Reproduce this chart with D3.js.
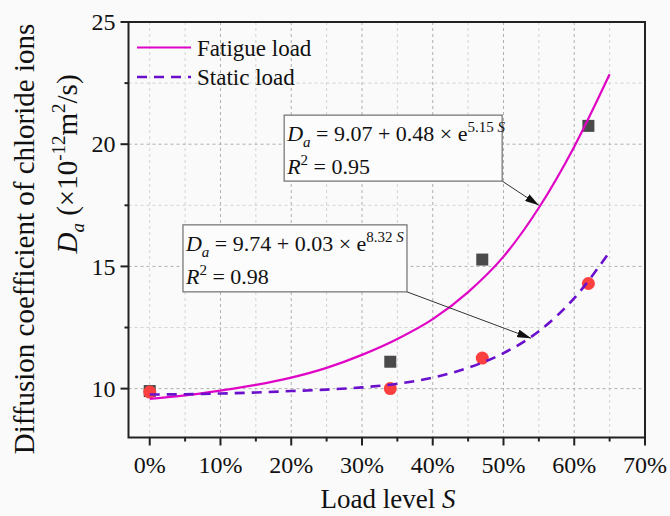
<!DOCTYPE html>
<html>
<head>
<meta charset="utf-8">
<script src="https://cdn.jsdelivr.net/npm/d3@7"></script>
<style>
  body { margin: 0; background: #fafafa; }
  svg { display: block; font-family: "Liberation Serif", "Times New Roman", serif; }
</style>
</head>
<body>
<svg id="chart" width="670" height="516"></svg>
<script>
// measured points
var loadLevels = [0, 0.34, 0.47, 0.62];
var fatigueValues = [9.9, 11.1, 15.28, 20.75];
var staticValues = [9.86, 10.0, 11.25, 14.3];

// fitted curves
var fitLevels = [0, 0.05, 0.1, 0.15, 0.2, 0.25, 0.3, 0.35, 0.4, 0.45, 0.5, 0.55, 0.6, 0.65];
var fatigueFit = [9.58, 9.72, 9.92, 10.15, 10.45, 10.85, 11.38, 12.03, 12.84, 13.95, 15.4, 17.4, 19.9, 22.86];
var staticFit = [9.76, 9.77, 9.8, 9.84, 9.9, 9.96, 10.05, 10.2, 10.45, 10.85, 11.45, 12.35, 13.7, 15.6];

var xTicks = [0, 0.1, 0.2, 0.3, 0.4, 0.5, 0.6, 0.7];
var xMinor = [0.05, 0.15, 0.25, 0.35, 0.45, 0.55, 0.65];
var yTicks = [10, 15, 20, 25];
var yMinor = [12.5, 17.5, 22.5];

var seriesNames = ['Fatigue load', 'Static load'];
var fatigueEq = {a: '9.07', b: '0.48', k: '5.15', r2: '0.95'};
var staticEq = {a: '9.74', b: '0.03', k: '8.32', r2: '0.98'};

var svg = d3.select('#chart');
var pLeft = 128.5, pRight = 645, pTop = 22, pBottom = 437.5;

var x = d3.scaleLinear().domain([-0.03, 0.70]).range([pLeft, pRight]);
var y = d3.scaleLinear().domain([8, 25]).range([pBottom, pTop]);

svg.append('rect').attr('width', 670).attr('height', 516).style('fill', '#fafafa');

// grid
var grid = svg.append('g');
grid.selectAll('.vminor').data(xMinor.concat([0])).enter().append('line')
  .attr('x1', function(d){return x(d);}).attr('x2', function(d){return x(d);})
  .attr('y1', pTop).attr('y2', pBottom)
  .style('stroke', '#d4d4d4').style('stroke-dasharray', '3,3');
grid.selectAll('.vmajor').data(xTicks.slice(1, -1)).enter().append('line')
  .attr('x1', function(d){return x(d);}).attr('x2', function(d){return x(d);})
  .attr('y1', pTop).attr('y2', pBottom)
  .style('stroke', '#b0b0b0').style('stroke-dasharray', '3,3');
grid.selectAll('.hminor').data(yMinor).enter().append('line')
  .attr('y1', function(d){return y(d);}).attr('y2', function(d){return y(d);})
  .attr('x1', pLeft).attr('x2', pRight)
  .style('stroke', '#d4d4d4').style('stroke-dasharray', '3,3');
grid.selectAll('.hmajor').data(yTicks.slice(0, -1)).enter().append('line')
  .attr('y1', function(d){return y(d);}).attr('y2', function(d){return y(d);})
  .attr('x1', pLeft).attr('x2', pRight)
  .style('stroke', '#b0b0b0').style('stroke-dasharray', '3,3');

// markers
var sq = 12;
svg.selectAll('.sq').data(loadLevels).enter().append('rect')
  .attr('x', function(d){return x(d) - sq / 2;})
  .attr('y', function(d, i){return y(fatigueValues[i]) - sq / 2;})
  .attr('width', sq).attr('height', sq)
  .style('fill', '#4a4a4a');
svg.selectAll('.dot').data(loadLevels).enter().append('circle')
  .attr('cx', function(d){return x(d);})
  .attr('cy', function(d, i){return y(staticValues[i]);})
  .attr('r', 6.5)
  .style('fill', '#fc4040');

// fitted curves
var fitLine = function(vals) {
  return d3.line()
    .x(function(d){return x(d);})
    .y(function(d, i){return y(vals[i]);})
    .curve(d3.curveMonotoneX)(fitLevels);
};
svg.append('path').attr('d', fitLine(fatigueFit))
  .style('fill', 'none').style('stroke', '#e005c6').style('stroke-width', 2.2);
svg.append('path').attr('d', fitLine(staticFit))
  .style('fill', 'none').style('stroke', '#6a0fcc').style('stroke-width', 2.6)
  .style('stroke-dasharray', '10,7');

// annotations
svg.append('defs').append('marker')
  .attr('id', 'arr').attr('viewBox', '0 0 14 8').attr('refX', 14).attr('refY', 4)
  .attr('markerWidth', 14).attr('markerHeight', 8).attr('markerUnits', 'userSpaceOnUse')
  .attr('orient', 'auto')
  .append('path').attr('d', 'M0,0 L14,4 L0,8 Z').style('fill', '#111');

function annotate(eq, box, tip) {
  var g = svg.append('g');
  var bx = x(box[0]), by = y(box[1]), bw = box[2], bh = box[3];
  g.append('line')
    .attr('x1', bx + bw).attr('y1', by + bh)
    .attr('x2', x(tip[0])).attr('y2', y(tip[1]))
    .style('stroke', '#333').style('stroke-width', 1)
    .attr('marker-end', 'url(#arr)');
  g.append('rect').attr('x', bx).attr('y', by).attr('width', bw).attr('height', bh)
    .style('fill', '#fcfcfc').style('stroke', '#6e6e6e').style('stroke-width', 1.2);
  var t1 = g.append('text').attr('x', bx + 3).attr('y', by + 26).style('font-size', '22px').style('fill', '#111');
  t1.append('tspan').style('font-style', 'italic').text('D');
  t1.append('tspan').style('font-style', 'italic').style('font-size', '15px').attr('dy', 6).text('a');
  t1.append('tspan').attr('dy', -6).text(' = ' + eq.a + ' + ' + eq.b + ' \u00d7 e');
  t1.append('tspan').style('font-size', '15px').attr('dy', -9).text(eq.k + ' ');
  t1.append('tspan').style('font-size', '15px').style('font-style', 'italic').text('S');
  var t2 = g.append('text').attr('x', bx + 3).attr('y', by + 59).style('font-size', '22px').style('fill', '#111');
  t2.append('tspan').style('font-style', 'italic').text('R');
  t2.append('tspan').style('font-size', '15px').attr('dy', -9).text('2');
  t2.append('tspan').attr('dy', 9).text(' = ' + eq.r2);
}
annotate(fatigueEq, [0.19, 21.19, 218, 66], [0.55, 17.5]);
annotate(staticEq, [0.047, 16.7, 224, 67], [0.539, 12.06]);

// axes
var ax = svg.append('g').style('stroke', '#222');
ax.selectAll('.xt').data(xTicks).enter().append('line')
  .attr('x1', function(d){return x(d);}).attr('x2', function(d){return x(d);})
  .attr('y1', pBottom).attr('y2', pBottom + 8).style('stroke-width', 2);
ax.selectAll('.xm').data(xMinor).enter().append('line')
  .attr('x1', function(d){return x(d);}).attr('x2', function(d){return x(d);})
  .attr('y1', pBottom).attr('y2', pBottom + 4).style('stroke-width', 2);
ax.selectAll('.yt').data(yTicks).enter().append('line')
  .attr('y1', function(d){return y(d);}).attr('y2', function(d){return y(d);})
  .attr('x1', pLeft).attr('x2', pLeft - 8).style('stroke-width', 2);
ax.selectAll('.ym').data(yMinor).enter().append('line')
  .attr('y1', function(d){return y(d);}).attr('y2', function(d){return y(d);})
  .attr('x1', pLeft).attr('x2', pLeft - 4).style('stroke-width', 2);
svg.append('rect').attr('x', pLeft).attr('y', pTop).attr('width', pRight - pLeft).attr('height', pBottom - pTop)
  .style('fill', 'none').style('stroke', '#222').style('stroke-width', 2);

var pct = d3.format('.0%');
svg.selectAll('.xl').data(xTicks).enter().append('text')
  .attr('x', function(d){return x(d);}).attr('y', pBottom + 35)
  .attr('text-anchor', 'middle').style('font-size', '24px').style('fill', '#111')
  .text(function(d){return pct(d);});
svg.selectAll('.yl').data(yTicks).enter().append('text')
  .attr('x', pLeft - 13).attr('y', function(d){return y(d);}).attr('dy', '0.34em')
  .attr('text-anchor', 'end').style('font-size', '24px').style('fill', '#111')
  .text(function(d){return d;});

// axis titles
var xt = svg.append('text').attr('x', 388).attr('y', 508).attr('text-anchor', 'middle')
  .style('font-size', '27px').style('fill', '#111');
xt.append('tspan').text('Load level ');
xt.append('tspan').style('font-style', 'italic').text('S');

svg.append('text').attr('transform', 'translate(34,239) rotate(-90)')
  .attr('text-anchor', 'middle').style('font-size', '29px').style('fill', '#111')
  .text('Diffusion coefficient of chloride ions');
var yt2 = svg.append('text').attr('transform', 'translate(77,164) rotate(-90)')
  .attr('text-anchor', 'middle').style('font-size', '29px').style('fill', '#111');
yt2.append('tspan').style('font-style', 'italic').text('D');
yt2.append('tspan').style('font-style', 'italic').style('font-size', '19px').attr('dy', 7).text('a');
yt2.append('tspan').attr('dy', -7).text(' (\u00d710');
yt2.append('tspan').style('font-size', '19px').attr('dy', -12).text('-12');
yt2.append('tspan').attr('dy', 12).text('m');
yt2.append('tspan').style('font-size', '19px').attr('dy', -12).text('2');
yt2.append('tspan').attr('dy', 12).text('/s)');

// legend
var legend = svg.append('g');
legend.append('line').attr('x1', 137).attr('x2', 191).attr('y1', 47.5).attr('y2', 47.5)
  .style('stroke', '#e005c6').style('stroke-width', 2.2);
legend.append('line').attr('x1', 137).attr('x2', 191).attr('y1', 77).attr('y2', 77)
  .style('stroke', '#6a0fcc').style('stroke-width', 2.6).style('stroke-dasharray', '10,7');
legend.selectAll('text').data(seriesNames).enter().append('text')
  .attr('x', 197).attr('y', function(d, i){return 56 + i * 29;})
  .style('font-size', '23px').style('fill', '#111')
  .text(function(d){return d;});
</script>
</body>
</html>
